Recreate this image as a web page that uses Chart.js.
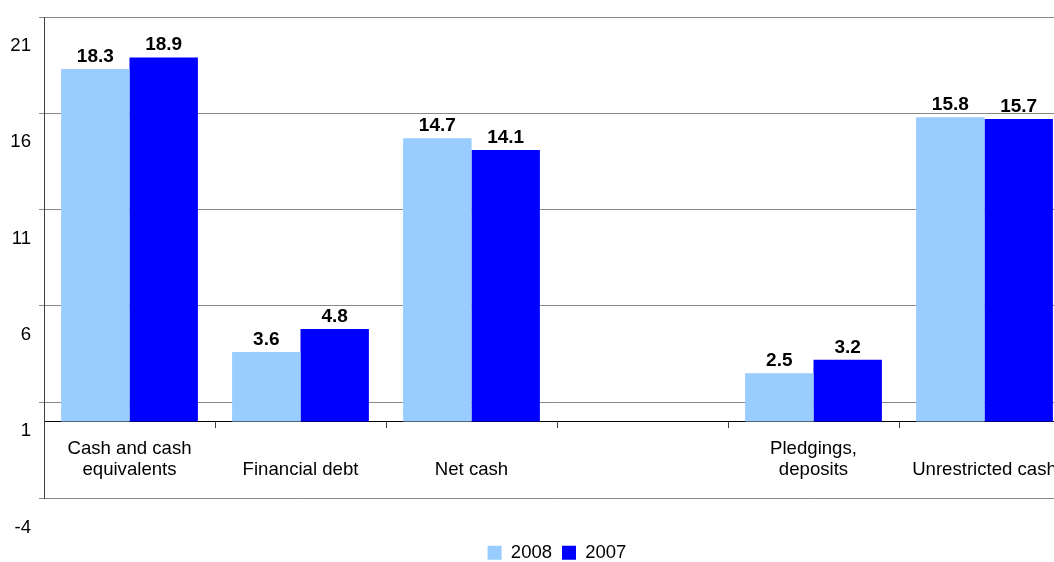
<!DOCTYPE html>
<html>
<head>
<meta charset="utf-8">
<script src="https://cdn.jsdelivr.net/npm/chart.js@4.4.1/dist/chart.umd.min.js"></script>
<style>
  html, body { margin: 0; padding: 0; overflow: hidden; background: #fff; }
  #wrap { width: 1075px; height: 572px; }
</style>
</head>
<body>
<div id="wrap"><canvas id="chart"></canvas></div>
<script>
const categories = [
    ["Cash and cash", "equivalents"],
    "Financial debt",
    "Net cash",
    "",
    ["Pledgings,", "deposits"],
    "Unrestricted cash",
];
const values2008 = [18.3, 3.6, 14.7, null, 2.5, 15.8];
const values2007 = [18.9, 4.8, 14.1, null, 3.2, 15.7];
const yTicks = [-4, 1, 6, 11, 16, 21];

const LIGHT = "#99ccff";
const BLUE = "#0000ff";
const FONT = "'Liberation Sans', Arial, sans-serif";

// value labels above each bar
const barValues = {
    id: "barValues",
    afterDatasetsDraw(chart) {
        const ctx = chart.ctx;
        ctx.save();
        ctx.font = "bold 19px " + FONT;
        ctx.fillStyle = "#000";
        ctx.textAlign = "center";
        ctx.textBaseline = "alphabetic";
        chart.data.datasets.forEach((ds, i) => {
            chart.getDatasetMeta(i).data.forEach((bar, j) => {
                const v = ds.data[j];
                if (v == null) return;
                ctx.fillText(v.toFixed(1), bar.x, bar.y - 7);
            });
        });
        ctx.restore();
    },
};

new Chart(document.getElementById("chart"), {
    type: "bar",
    data: {
        labels: categories,
        datasets: [
            { label: "2008", data: values2008, backgroundColor: LIGHT },
            { label: "2007", data: values2007, backgroundColor: BLUE },
        ],
    },
    options: {
        responsive: true, maintainAspectRatio: false, animation: false,
        categoryPercentage: 0.8, barPercentage: 1.0,
        layout: { padding: { top: 17, right: 5, left: 0, bottom: 0 } },
        plugins: {
            tooltip: { enabled: false },
            legend: {
                position: "bottom",
                fullSize: false, // centre the legend under the plot, not the page
                labels: {
                    color: "#000", font: { family: FONT, size: 18.5 },
                    boxWidth: 14, boxHeight: 14, padding: 10,
                },
            },
        },
        scales: {
            x: {
                position: { y: 0 },
                grid: { drawOnChartArea: false, tickLength: 6, color: "#404040", offset: true },
                border: { color: "#000", width: 1 },
                ticks: {
                    color: "#000", font: { family: FONT, size: 18.6, lineHeight: "21px" }, padding: 11,
                    maxRotation: 0, autoSkip: false,
                    callback(v) {
                        const l = this.getLabelForValue(v);
                        return Array.isArray(l) ? l : ["", l];
                    },
                },
            },
            // empty strip that keeps the legend clear of the plot
            gap: {
                type: "category", position: "bottom",
                grid: { display: false }, border: { display: false },
                ticks: { display: false },
                afterFit(scale) { scale.height = 35; },
            },
            y: {
                min: -4, max: 21,
                afterBuildTicks(scale) { scale.ticks = yTicks.map(v => ({ value: v })); },
                afterFit(scale) { scale.width = 44; scale.paddingTop = 0; },
                grid: { color: "#888", tickLength: 5 },
                border: { color: "#404040" },
                ticks: {
                    color: "#000", font: { family: FONT, size: 18.6, lineHeight: "18px" },
                    padding: 8, labelOffset: 29,
                },
            },
        },
    },
    plugins: [barValues],
});
</script>
</body>
</html>
